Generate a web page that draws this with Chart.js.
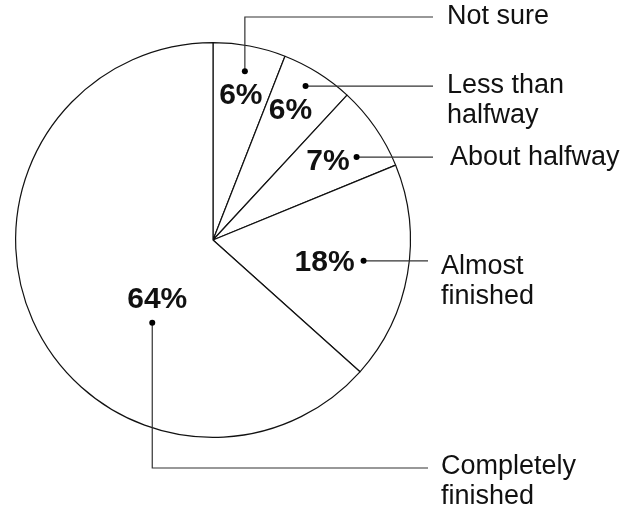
<!DOCTYPE html>
<html>
<head>
<meta charset="utf-8">
<script src="https://cdn.jsdelivr.net/npm/chart.js@4/dist/chart.umd.min.js"></script>
<style>
  html, body { margin: 0; padding: 0; background: #fff; }
  #wrap { width: 635px; height: 511px; position: relative; }
</style>
</head>
<body>
<div id="wrap"><canvas id="pieChart"></canvas></div>
<script>
var categories = [
  ["Not sure"],
  ["Less than", "halfway"],
  ["About halfway"],
  ["Almost", "finished"],
  ["Completely", "finished"]
];
var shares = [6, 6, 7, 18, 64];

// where the dot sits inside each slice: fraction along the slice, fraction of radius
var dotAt = [
  { t: 0.5, f: 0.87 },
  { t: 0.45, f: 0.91 },
  { t: 0.69, f: 0.84 },
  { t: 0.47, f: 0.77 },
  { t: 0.37, f: 0.52 }
];
// percent text relative to the dot, and how the leader runs to the label column
var pctOffset = [
  { dx: -4, dy: 24, align: "center" },
  { dx: -15, dy: 25, align: "center" },
  { dx: -7, dy: 5, align: "right" },
  { dx: -9, dy: 2, align: "right" },
  { dx: 5, dy: -23, align: "center" }
];
var leaders = [
  { turnY: 17, endX: 433, textX: 447 },
  { turnY: null, endX: 433, textX: 447 },
  { turnY: null, endX: 433, textX: 450 },
  { turnY: null, endX: 428, textX: 441 },
  { turnY: 468, endX: 428, textX: 441 }
];

var calloutPlugin = {
  id: "callouts",
  afterDraw: function (chart) {
    var ctx = chart.ctx;
    var arcs = chart.getDatasetMeta(0).data;
    ctx.save();
    arcs.forEach(function (arc, i) {
      var p = arc.getProps(["x", "y", "startAngle", "endAngle", "outerRadius"], true);
      var d = dotAt[i];
      var a = p.startAngle + d.t * (p.endAngle - p.startAngle);
      var dx = p.x + Math.cos(a) * p.outerRadius * d.f;
      var dy = p.y + Math.sin(a) * p.outerRadius * d.f;
      var lead = leaders[i];

      // leader line
      ctx.strokeStyle = "#333";
      ctx.lineWidth = 1.2;
      ctx.beginPath();
      ctx.moveTo(dx, dy);
      var labelY = dy;
      if (lead.turnY !== null) {
        ctx.lineTo(dx, lead.turnY);
        labelY = lead.turnY;
      }
      ctx.lineTo(lead.endX, labelY);
      ctx.stroke();

      // dot
      ctx.fillStyle = "#000";
      ctx.beginPath();
      ctx.arc(dx, dy, 3, 0, Math.PI * 2);
      ctx.fill();

      // percent
      var o = pctOffset[i];
      ctx.font = "bold 30px 'Liberation Sans', Arial, sans-serif";
      ctx.textAlign = o.align;
      ctx.textBaseline = "middle";
      ctx.fillStyle = "#111";
      ctx.fillText(shares[i] + "%", dx + o.dx, dy + o.dy);

      // category label
      ctx.font = "27px 'Liberation Sans', Arial, sans-serif";
      ctx.textAlign = "left";
      var lines = categories[i];
      var top = labelY;
      if (lines.length > 1 && lead.turnY === null) {
        top = labelY + (i === 3 ? 6 : 0);
      } else if (lines.length > 1) {
        top = labelY - 1;
      }
      lines.forEach(function (line, k) {
        ctx.fillText(line, lead.textX, top + k * 30);
      });
    });
    ctx.restore();
  }
};

new Chart(document.getElementById("pieChart"), {
  type: "pie",
  data: {
    labels: categories.map(function (c) { return c.join(" "); }),
    datasets: [
      {
        data: shares,
        backgroundColor: "#ffffff",
        borderColor: "#111",
        borderWidth: 1.2,
        hoverOffset: 0
      }
    ]
  },
  options: {
    responsive: true,
    maintainAspectRatio: false,
    animation: false,
    layout: {
      padding: { left: 15, top: 42, right: 224, bottom: 73 }
    },
    plugins: {
      legend: { display: false },
      tooltip: { enabled: false }
    }
  },
  plugins: [calloutPlugin]
});
</script>
</body>
</html>
